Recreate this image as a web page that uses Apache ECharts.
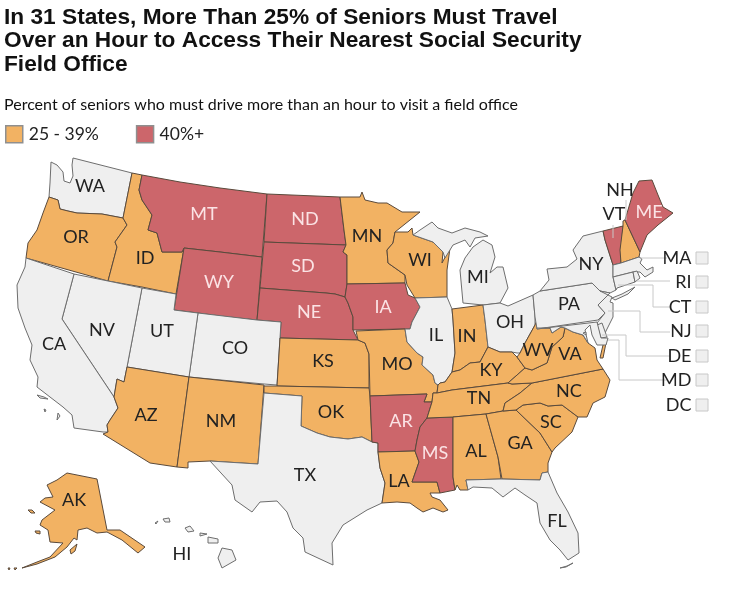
<!DOCTYPE html>
<html>
<head>
<meta charset="utf-8">
<script src="https://cdn.jsdelivr.net/npm/echarts@6/dist/echarts.min.js"></script>
<style>html,body{margin:0;background:#fff}#chart{width:731px;height:601px}</style>
</head>
<body>
<div id="chart"></div>
<script>
const titleText = 'In 31 States, More Than 25% of Seniors Must Travel\nOver an Hour to Access Their Nearest Social Security\nField Office';
const subtitleText = 'Percent of seniors who must drive more than an hour to visit a field office';
const rangeNames = ['25 - 39%', '40%+'];
const midStates = ['OR','ID','AZ','NM','KS','OK','MN','WI','MO','LA','IN','KY','TN','AL','GA','SC','NC','VA','WV','NH','AK'];
const highStates = ['MT','WY','ND','SD','NE','IA','AR','MS','ME','VT'];
const lowStates = ['WA','CA','NV','UT','CO','TX','IL','MI','OH','PA','NY','FL','HI','MA','RI','CT','NJ','DE','MD','DC'];
const boxedStates = ['MA','RI','CT','NJ','DE','MD','DC'];
const outsideLabels = ['NH','VT'];

const FONT = 'Lato,"Liberation Sans",sans-serif';
const colors = { low: '#efefef', mid: '#f2b263', high: '#cc666b' };

// outlines, in page pixels
const outlines = {
  WA: [[[73,158],[132,173],[123,218],[102,214],[77,213],[68,211],[60,209],[58,200],[49,197],[50,183],[51,162],[57,165],[63,172],[64,181],[70,183],[73,176],[72,165]]],
  OR: [[[49,197],[58,200],[60,209],[68,211],[77,213],[102,214],[123,218],[127,225],[115,242],[117,247],[108,281],[26,258],[28,243],[37,230],[43,213]]],
  ID: [[[132,173],[142,175],[139,190],[142,200],[152,215],[148,230],[157,233],[162,252],[182,252],[184,248],[176,294],[142,287],[108,281],[117,247],[115,242],[127,225],[123,218]]],
  MT: [[[142,175],[180,182],[220,188],[267,194],[262,257],[220,252],[184,248],[182,252],[162,252],[157,233],[148,230],[152,215],[142,200],[139,190]]],
  WY: [[[184,248],[220,252],[262,257],[257,320],[220,316],[198,313],[174,310]]],
  ND: [[[267,194],[340,197],[344,230],[346,245],[264,242]]],
  SD: [[[264,242],[346,245],[343,252],[347,255],[347,284],[345,297],[335,294],[326,293],[260,288]]],
  NE: [[[260,288],[326,293],[335,294],[345,297],[348,303],[353,317],[353,330],[358,340],[280,338],[281,322],[257,320]]],
  CO: [[[198,313],[257,320],[281,322],[280,338],[277,385],[264,384],[189,377]]],
  UT: [[[142,288],[176,294],[174,310],[198,313],[189,377],[127,367]]],
  NV: [[[74,274],[108,281],[142,288],[127,367],[124,382],[117,379],[114,397],[62,319]]],
  CA: [[[26,258],[74,274],[62,319],[114,397],[118,408],[110,420],[107,425],[108,432],[103,432],[74,428],[72,415],[63,407],[50,397],[37,387],[38,377],[30,360],[32,345],[25,328],[18,308],[17,285],[25,267]],
       [[37,395],[44,397],[48,399],[40,398]],[[58,413],[60,416],[57,420]],[[44,409],[46,410],[45,412]]],
  AZ: [[[127,367],[189,377],[177,467],[150,463],[103,434],[108,432],[107,425],[110,420],[118,408],[114,397],[117,379],[124,382]]],
  NM: [[[189,377],[264,385],[258,464],[210,461],[188,462],[188,468],[177,467]]],
  KS: [[[280,338],[358,340],[365,343],[369,354],[369,388],[277,386]]],
  OK: [[[264,386],[277,386],[369,388],[370,396],[372,442],[362,437],[348,439],[330,437],[317,433],[301,426],[302,396],[264,393]]],
  TX: [[[264,393],[302,396],[301,426],[317,433],[330,437],[348,439],[362,437],[372,442],[378,443],[378,452],[380,468],[385,483],[382,503],[367,510],[343,525],[332,543],[333,565],[305,552],[303,538],[293,528],[287,512],[277,501],[260,502],[252,512],[235,500],[232,485],[210,461],[258,464]]],
  MN: [[[340,197],[360,197],[362,192],[365,200],[378,203],[387,203],[402,212],[420,212],[395,232],[393,243],[387,250],[388,263],[405,275],[405,283],[347,284],[347,255],[343,252],[346,245],[344,230]]],
  IA: [[[347,284],[405,283],[408,295],[415,298],[420,307],[412,322],[410,329],[405,329],[353,330],[353,317],[348,303],[345,297]]],
  MO: [[[356,331],[405,329],[407,342],[417,353],[423,357],[422,365],[433,375],[435,383],[438,385],[437,393],[433,393],[432,402],[424,402],[427,394],[370,396],[369,354],[365,343],[358,340]]],
  AR: [[[370,396],[427,394],[424,402],[432,402],[427,418],[420,427],[417,440],[415,451],[378,452],[378,443],[372,442]]],
  LA: [[[378,452],[415,451],[419,462],[412,482],[437,482],[440,493],[430,493],[432,497],[440,500],[448,510],[443,512],[433,508],[423,512],[417,508],[410,503],[397,502],[382,503],[385,483],[380,468]]],
  MS: [[[427,418],[453,417],[453,477],[455,490],[440,493],[437,482],[412,482],[419,462],[415,451],[417,440],[420,427]]],
  WI: [[[395,232],[408,232],[412,228],[413,235],[433,242],[443,252],[442,263],[450,248],[447,270],[447,297],[415,298],[407,285],[405,275],[388,263],[387,250],[393,243]]],
  IL: [[[415,298],[447,297],[452,309],[453,320],[455,353],[452,372],[445,382],[440,383],[438,385],[435,383],[433,375],[422,365],[423,357],[417,353],[407,342],[405,329],[410,329],[412,322],[420,307]]],
  MI: [[[413,235],[420,230],[432,222],[438,228],[452,233],[465,228],[480,232],[488,236],[475,238],[470,247],[465,240],[453,245],[445,258],[443,252],[433,242]],
       [[473,247],[483,240],[492,245],[495,257],[490,273],[497,267],[503,267],[508,288],[500,303],[483,305],[463,303],[460,270],[465,258]]],
  IN: [[[452,309],[483,305],[485,320],[488,347],[480,362],[470,363],[460,370],[452,372],[455,353],[453,320]]],
  OH: [[[483,305],[500,303],[508,306],[533,295],[535,317],[535,325],[525,343],[520,353],[517,353],[512,352],[500,352],[488,347],[485,320]]],
  KY: [[[438,385],[440,383],[445,382],[452,372],[460,370],[470,363],[480,362],[488,347],[500,352],[512,352],[517,357],[525,368],[508,383],[452,390],[437,393]]],
  TN: [[[437,393],[452,390],[508,383],[512,384],[532,383],[520,393],[505,403],[503,411],[486,414],[453,417],[427,418],[432,402],[433,393]]],
  AL: [[[453,417],[486,414],[498,457],[501,479],[466,480],[468,490],[460,490],[457,485],[455,490],[453,477]]],
  GA: [[[486,414],[503,411],[516,410],[540,433],[552,452],[548,463],[548,472],[542,473],[540,480],[502,479],[498,457]]],
  FL: [[[466,480],[501,479],[502,479],[540,480],[542,473],[548,472],[557,493],[568,512],[578,533],[579,553],[568,560],[560,550],[550,540],[540,523],[537,503],[525,495],[515,488],[503,497],[492,488],[473,487],[468,490]],
       [[560,568],[566,567],[573,563],[567,566]]],
  SC: [[[516,410],[523,405],[540,403],[548,406],[562,405],[578,417],[572,432],[555,448],[552,452],[540,433]]],
  NC: [[[603,369],[610,380],[605,397],[593,403],[587,417],[578,417],[562,405],[548,406],[540,403],[523,405],[516,410],[503,411],[505,403],[520,393],[532,383]]],
  VA: [[[603,369],[532,383],[512,384],[508,383],[525,368],[532,370],[547,363],[552,347],[563,337],[565,328],[573,332],[583,335],[588,343],[595,348],[597,360]],
       [[603,345],[606,343],[603,358],[600,358]]],
  WV: [[[537,320],[535,325],[525,343],[520,353],[517,357],[525,368],[532,370],[547,363],[552,347],[563,337],[565,328],[561,327],[552,333],[550,328],[537,328]]],
  PA: [[[533,295],[540,291],[592,283],[600,291],[610,293],[598,305],[605,313],[598,320],[537,329],[535,317]]],
  NY: [[[603,231],[583,236],[573,250],[577,259],[567,267],[547,269],[549,280],[540,291],[592,283],[600,291],[610,293],[616,290],[613,277],[613,265],[605,240]],
       [[612,298],[622,294],[635,287],[628,294],[615,300]]],
  VT: [[[603,231],[623,226],[621,250],[621,263],[613,265],[605,240]]],
  NH: [[[623,221],[625,220],[640,252],[639,257],[621,263],[620,250],[623,226]]],
  ME: [[[625,220],[633,193],[639,181],[652,180],[658,195],[663,207],[673,213],[658,225],[647,235],[640,252]]],
  MA: [[[613,265],[621,263],[639,257],[642,259],[640,263],[647,270],[653,267],[653,272],[645,277],[640,272],[633,272],[613,277]]],
  CT: [[[613,277],[633,272],[635,282],[617,288],[616,290]]],
  RI: [[[633,272],[637,271],[640,278],[635,282]]],
  NJ: [[[600,291],[612,297],[610,302],[613,303],[613,317],[605,333],[597,323],[605,313],[598,305],[610,293]]],
  DE: [[[597,325],[602,323],[607,337],[601,338]]],
  MD: [[[537,329],[597,322],[601,338],[608,338],[606,345],[597,345],[592,335],[590,325],[585,330],[588,343],[583,335],[573,332],[565,328],[561,327],[552,333],[550,328],[537,328]]],
  DC: [[[583,333],[586,332],[586,335]]],
  AK: [[[67,473],[97,479],[107,530],[120,530],[145,547],[138,553],[122,540],[107,532],[97,533],[87,528],[78,530],[77,540],[74,538],[67,547],[55,557],[37,564],[22,568],[37,562],[50,557],[63,543],[50,542],[48,530],[40,525],[42,520],[55,510],[40,502],[45,498],[53,497],[47,485],[57,480]],
       [[28,510],[32,510],[35,513],[31,513]],[[35,531],[40,531],[40,534],[36,533]],[[70,550],[77,544],[75,551],[71,554]],[[14,568],[17,568],[15,570]],[[8,568],[10,568],[9,570]]],
  HI: [[[222,548],[232,550],[236,560],[222,568],[218,558]],[[208,537],[218,539],[218,543],[208,543]],[[200,533],[207,534],[200,536]],[[185,528],[190,526],[194,531],[188,532]],[[163,519],[169,518],[170,522],[165,522]],[[155,523],[158,521],[156,524]]]
};
const labelPoints = {
  WA:[90,186],OR:[76,237],ID:[145,258],MT:[204,214],WY:[219,282],ND:[305,219],SD:[303,266],NE:[309,312],CA:[54,344],NV:[102,330],
  UT:[162,331],CO:[235,348],AZ:[146,415],NM:[221,421],KS:[323,361],OK:[331,412],TX:[305,475],MN:[367,236],IA:[383,307],MO:[397,364],
  AR:[401,421],LA:[399,481],WI:[420,260],IL:[436,335],MI:[478,277],IN:[467,336],OH:[510,322],KY:[491,370],TN:[479,398],MS:[435,453],
  AL:[476,451],GA:[520,443],SC:[551,422],NC:[569,391],FL:[557,521],WV:[538,350],VA:[570,354],PA:[569,304],NY:[591,264],ME:[649,212],
  AK:[74,500],HI:[182,554],NH:[620,190],VT:[614,214]
};
const boxPoints = { MA:[702,258], RI:[702,282], CT:[702,307], NJ:[702,331], DE:[702,356], MD:[702,380], DC:[702,405] };
const leaders = [
  [[626,200],[626,220]],
  [[613,225],[613,238]],
  [[667,258],[641,258]],
  [[670,281],[637,281]],
  [[670,307],[653,307],[653,285],[618,285]],
  [[670,332],[640,332],[640,311],[608,311]],
  [[670,356],[626,356],[626,335],[602,335]],
  [[667,380],[619,380],[619,340],[608,340]]
];

const usa = {
  type: 'FeatureCollection',
  features: Object.keys(outlines).map(name => ({
    type: 'Feature',
    properties: { name: name, cp: labelPoints[name] || outlines[name][0][0] },
    geometry: { type: 'MultiPolygon', coordinates: outlines[name].map(ring => [ring.concat([ring[0]])]) }
  }))
};
echarts.registerMap('usa', usa);

const fillOf = name => highStates.includes(name) ? colors.high : midStates.includes(name) ? colors.mid : colors.low;
const regions = lowStates.concat(midStates, highStates).map(name => ({
  name: name,
  itemStyle: { areaColor: fillOf(name), borderColor: lowStates.includes(name) ? '#6e6e6e' : '#5a4a3c' },
  label: {
    show: !boxedStates.includes(name),
    color: highStates.includes(name) && !outsideLabels.includes(name) ? '#fbe3e5' : '#222'
  }
}));

const myChart = echarts.init(document.getElementById('chart'));
const option = {
  animation: false,
  backgroundColor: '#fff',
  title: [
    {
      text: titleText, left: 4, top: 6, padding: 0,
      textStyle: { fontFamily: '"Liberation Sans",sans-serif', fontSize: 22.7, fontWeight: 'bold', color: '#111', lineHeight: 23.4 }
    },
    {
      text: subtitleText, left: 4, top: 97, padding: 0,
      textStyle: { fontFamily: FONT, fontSize: 16, fontWeight: 'normal', color: '#111' }
    }
  ],
  legend: {
    left: 5, top: 125, selectedMode: false, icon: 'rect',
    itemWidth: 17, itemHeight: 17, itemGap: 37,
    itemStyle: { borderColor: '#8f8f8f', borderWidth: 1.5 },
    textStyle: { fontFamily: FONT, fontSize: 17.5, color: '#222', padding: [0, 0, 0, 1] },
    padding: 0,
    data: rangeNames
  },
  geo: {
    map: 'usa',
    projection: { project: p => p, unproject: p => p },
    boundingCoords: [[0, 0], [731, 601]],
    left: 0, top: 0, width: 731, height: 601,
    silent: true,
    itemStyle: { areaColor: colors.low, borderColor: '#6e6e6e', borderWidth: 1 },
    label: { show: true, fontFamily: FONT, fontSize: 18, color: '#222' },
    regions: regions
  },
  series: [
    { name: rangeNames[0], type: 'scatter', coordinateSystem: 'geo', data: [], itemStyle: { color: colors.mid, opacity: 1 } },
    { name: rangeNames[1], type: 'scatter', coordinateSystem: 'geo', data: [], itemStyle: { color: colors.high, opacity: 1 } },
    {
      type: 'lines', coordinateSystem: 'geo', polyline: true, silent: true,
      lineStyle: { color: '#c8c8c8', width: 1, opacity: 1 },
      data: leaders.map(coords => ({ coords: coords }))
    },
    {
      type: 'scatter', coordinateSystem: 'geo', silent: true, symbol: 'rect', symbolSize: 12,
      itemStyle: { color: colors.low, borderColor: '#c8c8c8', borderWidth: 1, opacity: 1 },
      label: { show: true, position: 'left', distance: 4, formatter: '{b}', fontFamily: FONT, fontSize: 18, color: '#222' },
      data: boxedStates.map(name => ({ name: name, value: boxPoints[name] }))
    }
  ]
};
myChart.setOption(option);
</script>
</body>
</html>
